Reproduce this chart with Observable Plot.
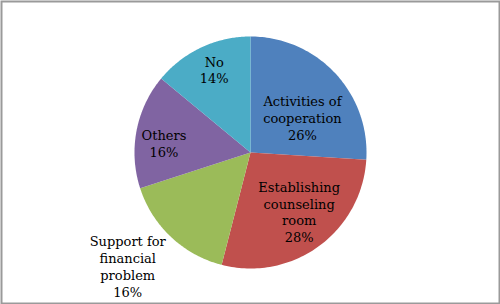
<!DOCTYPE html>
<html>
<head>
<meta charset="utf-8">
<script src="https://cdn.jsdelivr.net/npm/d3@7"></script>
<script src="https://cdn.jsdelivr.net/npm/@observablehq/plot@0.6"></script>
<style>
  html, body { margin: 0; padding: 0; background: #fff; }
</style>
</head>
<body>
<div id="chart"></div>
<script>
// ---- data ----
const categories = ["Activities of\ncooperation", "Establishing\ncounseling\nroom", "Support for\nfinancial\nproblem", "Others", "No"];
const values = [26, 28, 16, 16, 14];
const colors = ["#4F81BD", "#C0504D", "#9BBB59", "#8064A2", "#4BACC6"];

// ---- layout (not data) ----
const W = 500, H = 304;
const cx = 250, cy = 152, R = 116;
const labelRadius = [0.54, 0.66, 1.44, 0.75, 0.78];
const labelAngleShift = [9.2, -3.5, 4.1, -4.5, 1.6]; // degrees

const total = d3.sum(values);
const arcs = d3.pie().sort(null).value(d => d)(values);

const slicePoints = [];
arcs.forEach((a, i) => {
  const key = categories[i];
  slicePoints.push({key, x: 0, y: 0});
  const steps = 80;
  for (let s = 0; s <= steps; s++) {
    const t = a.startAngle + (a.endAngle - a.startAngle) * s / steps;
    slicePoints.push({key, x: Math.sin(t), y: -Math.cos(t)});
  }
});

const labels = arcs.map((a, i) => {
  const mid = (a.startAngle + a.endAngle) / 2 + labelAngleShift[i] * Math.PI / 180;
  const k = labelRadius[i];
  const pct = Math.round(values[i] / total * 100) + "%";
  return {text: categories[i] + "\n" + pct, x: k * Math.sin(mid), y: -k * Math.cos(mid)};
});

const chart = Plot.plot({
  width: W,
  height: H,
  margin: 0,
  x: {domain: [-cx / R, (W - cx) / R], range: [0, W], axis: null},
  y: {domain: [-cy / R, (H - cy) / R], range: [0, H], axis: null},
  color: {domain: categories, range: colors},
  marks: [
    Plot.line(slicePoints, {x: "x", y: "y", z: "key", fill: "key", stroke: "none", curve: "linear-closed"}),
    Plot.text(labels, {
      x: "x", y: "y", text: "text",
      fontFamily: "DejaVu Serif", fontSize: 13, lineHeight: 1.3,
      lineAnchor: "middle", textAnchor: "middle", fill: "#000"
    }),
    Plot.frame({stroke: "#9a9a9a", strokeWidth: 2, inset: 1})
  ]
});
document.getElementById("chart").appendChild(chart);
</script>
</body>
</html>
